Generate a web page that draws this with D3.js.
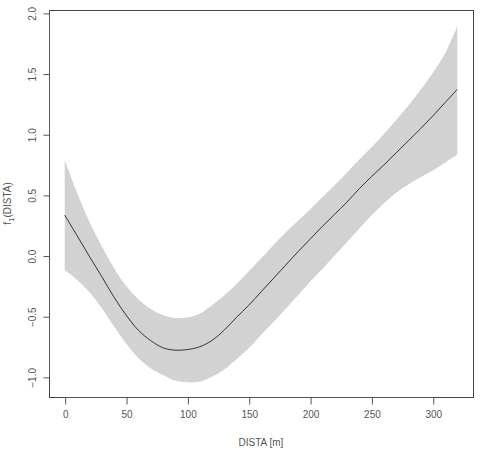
<!DOCTYPE html>
<html>
<head>
<meta charset="utf-8">
<script src="https://cdn.jsdelivr.net/npm/d3@7"></script>
<style>
	body { margin: 0; background: #fff; }
	svg text { font-family: 'Liberation Sans', Arial, sans-serif; fill: #555; }
</style>
</head>
<body>
<div class="plot" id="plot-1"></div>
<script>
//Data
const dista = [0,10,20,30,40,50,60,70,80,90,100,110,120,130,140,150,160,170,180,190,200,210,220,230,240,250,260,270,280,290,300,310,320];
const fit = [0.334,0.165,-0.005,-0.17,-0.34,-0.49,-0.615,-0.70,-0.76,-0.78,-0.775,-0.752,-0.70,-0.615,-0.51,-0.41,-0.30,-0.19,-0.08,0.03,0.135,0.24,0.34,0.44,0.55,0.65,0.745,0.845,0.945,1.045,1.15,1.26,1.37];
const upper = [0.787,0.52,0.28,0.08,-0.10,-0.25,-0.36,-0.44,-0.49,-0.515,-0.51,-0.48,-0.41,-0.33,-0.235,-0.13,-0.025,0.085,0.19,0.285,0.38,0.48,0.58,0.685,0.79,0.89,1.00,1.115,1.235,1.365,1.505,1.665,1.89];
const lower = [-0.12,-0.20,-0.30,-0.43,-0.58,-0.725,-0.845,-0.93,-0.985,-1.03,-1.045,-1.04,-1.0,-0.94,-0.855,-0.765,-0.655,-0.55,-0.44,-0.33,-0.215,-0.11,0.0,0.11,0.22,0.33,0.43,0.515,0.585,0.645,0.70,0.765,0.83];

const xTicks = [0,50,100,150,200,250,300];
const yTicks = [-1.0,-0.5,0.0,0.5,1.0,1.5,2.0];
const xLim = [-12.8, 332.8];
const yLim = [-1.166, 2.024];

const w = 485;
const h = 450;
const box = {left: 49, right: 473, top: 10, bottom: 397};

const svg = d3.select('#plot-1').append('svg').attr('width', w).attr('height', h);

const x = d3.scaleLinear().domain(xLim).range([box.left, box.right]);
const y = d3.scaleLinear().domain(yLim).range([box.bottom, box.top]);

const rows = dista.map((d, i) => ({x: d, fit: fit[i], lo: lower[i], hi: upper[i]}));

//Confidence band
const area = d3.area()
	.x(d => x(d.x))
	.y0(d => y(d.lo))
	.y1(d => y(d.hi))
	.curve(d3.curveCatmullRom);
svg.append('path')
	.datum(rows)
	.attr('d', area)
	.style('fill', '#d2d2d2')
	.style('stroke', 'none');

//Fitted smooth
const line = d3.line()
	.x(d => x(d.x))
	.y(d => y(d.fit))
	.curve(d3.curveCatmullRom);
svg.append('path')
	.datum(rows)
	.attr('d', line)
	.style('fill', 'none')
	.style('stroke', '#333')
	.style('stroke-width', 1);

//Box
svg.append('rect')
	.attr('x', box.left + 0.5)
	.attr('y', box.top + 0.5)
	.attr('width', box.right - box.left)
	.attr('height', box.bottom - box.top)
	.style('fill', 'none')
	.style('stroke', '#444');

//Axes
const xAxis = d3.axisBottom(x).tickValues(xTicks).tickSize(7).tickPadding(6).tickFormat(d3.format('d'));
const gx = svg.append('g')
	.attr('transform', `translate(0.5, ${box.bottom + 0.5})`)
	.call(xAxis);
gx.select('.domain').attr('d', `M${x(0)},0H${x(300)}`);

const yAxis = d3.axisLeft(y).tickValues(yTicks).tickSize(6).tickFormat(d3.format('.1f'));
const gy = svg.append('g')
	.attr('transform', `translate(${box.left + 0.5}, 0.5)`)
	.call(yAxis);
gy.select('.domain').attr('d', `M0,${y(-1)}V${y(2)}`);
gy.selectAll('.tick text')
	.attr('x', null)
	.attr('dy', null)
	.attr('text-anchor', 'middle')
	.attr('transform', 'translate(-14,0) rotate(-90)');

svg.selectAll('.domain, .tick line').style('stroke', '#555');
svg.selectAll('.tick text').style('font-size', '10px').style('fill', '#555');

//Axis titles
svg.append('text')
	.attr('x', (box.left + box.right) / 2)
	.attr('y', 446)
	.attr('text-anchor', 'middle')
	.style('font-size', '10px')
	.text('DISTA [m]');

const yTitle = svg.append('text')
	.attr('transform', `translate(11, ${(box.top + box.bottom) / 2}) rotate(-90)`)
	.attr('text-anchor', 'middle')
	.style('font-size', '10px');
yTitle.append('tspan').text('f');
yTitle.append('tspan').attr('dy', 3).style('font-size', '8px').text('1');
yTitle.append('tspan').attr('dy', -3).text('(DISTA)');
</script>
</body>
</html>
